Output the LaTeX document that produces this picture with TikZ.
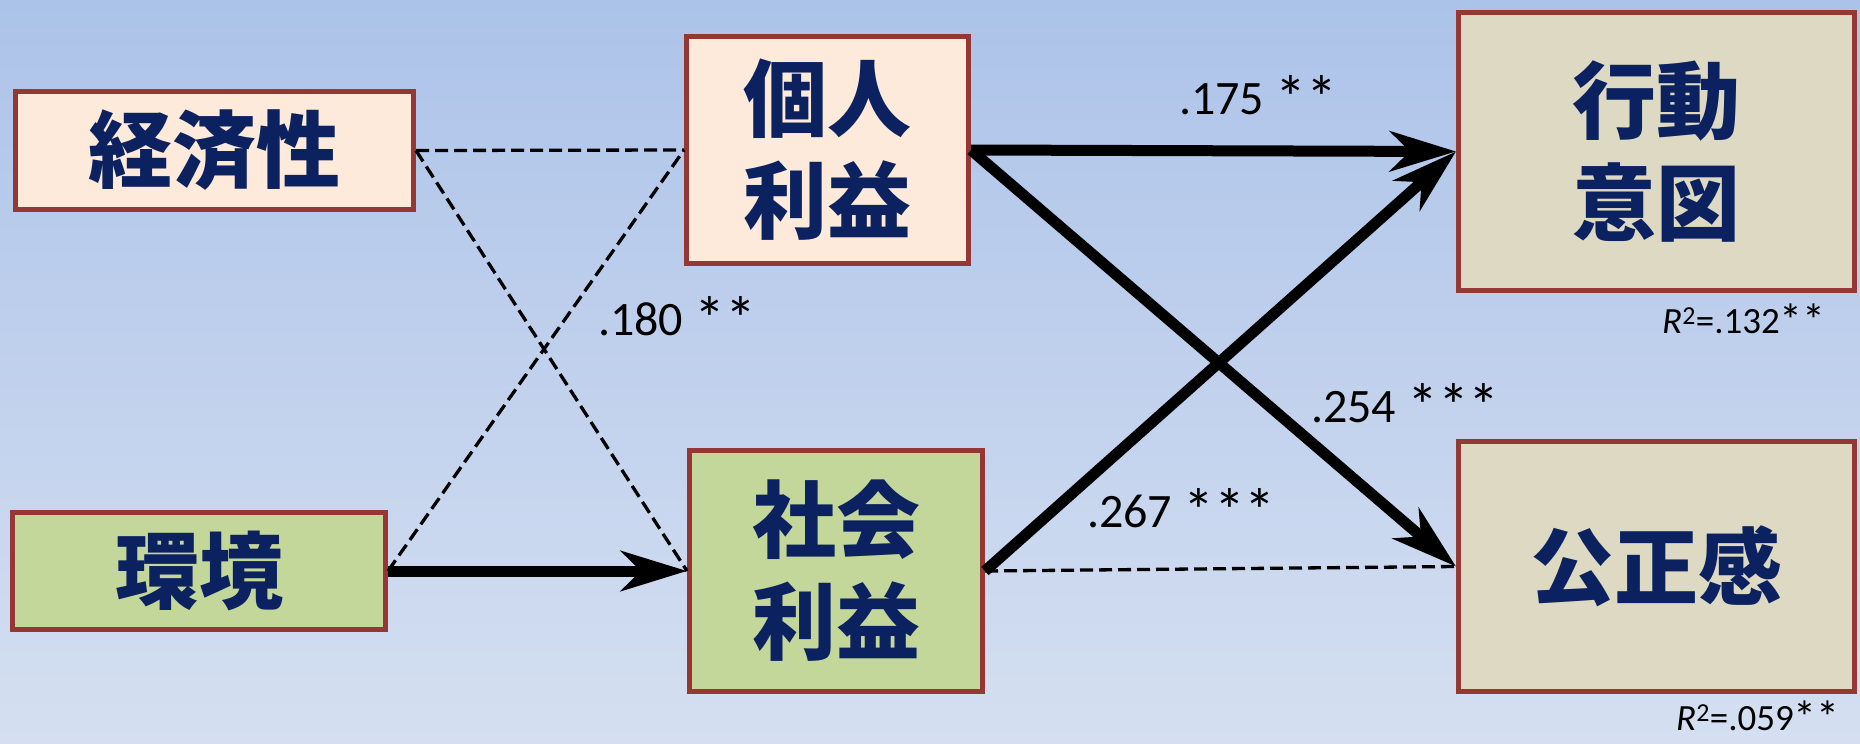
\documentclass[tikz,border=0pt]{standalone}
\usepackage{fontspec}
\setmainfont{Carlito}
\newfontfamily\cjk{Noto Sans CJK JP}
\usetikzlibrary{arrows.meta}
\definecolor{bgtop}{RGB}{172,195,233}
\definecolor{bgbot}{RGB}{213,223,241}
\definecolor{bordc}{RGB}{149,55,53}
\definecolor{peach}{RGB}{253,234,218}
\definecolor{olive}{RGB}{196,215,155}
\definecolor{tan}{RGB}{221,217,195}
\definecolor{navy}{RGB}{12,34,96}
\newcommand\bigast{\raisebox{-5pt}{\fontsize{62}{62}\selectfont*}}
\newcommand\midast{\raisebox{-3pt}{\fontsize{46}{46}\selectfont*}}
\tikzset{
  box/.style={draw=bordc, line width=5pt, rectangle, inner sep=0pt, align=center,
    font=\cjk\bfseries\fontsize{84}{102}\selectfont, text=navy},
  thick arrow/.style={line width=11pt, -{Stealth[length=66pt,width=40pt,inset=20pt]}},
  dashline/.style={line width=3.3pt, dash pattern=on 13pt off 6pt},
  coef/.style={font=\fontsize{48}{56}\selectfont, anchor=west, inner sep=0pt},
  rsq/.style={font=\fontsize{37}{44}\selectfont, anchor=west, inner sep=0pt}
}
\begin{document}
\begin{tikzpicture}[x=1pt,y=-1pt]
\useasboundingbox (0,0) rectangle (1860,744);
\shade[top color=bgtop, bottom color=bgbot] (0,0) rectangle (1860,744);
\node[box, fill=peach, minimum width=398pt, minimum height=118pt] (econ) at (214.5,150.5) {経済性};
\node[box, fill=peach, minimum width=282pt, minimum height=227pt] (pers) at (827.5,150) {個人\\利益};
\node[box, fill=olive, minimum width=373pt, minimum height=117pt] (env) at (199,571) {環境};
\node[box, fill=olive, minimum width=293pt, minimum height=241pt] (soc) at (836,571) {社会\\利益};
\node[box, fill=tan, minimum width=396pt, minimum height=278pt] (intent) at (1656.5,151.5) {行動\\意図};
\node[box, fill=tan, minimum width=396pt, minimum height=250pt] (fair) at (1656.5,566.5) {公正感};
\draw[dashline] (econ.east) -- (pers.west);
\draw[dashline] (econ.east) -- (soc.west);
\draw[dashline] (env.east) -- (pers.west);
\draw[dashline] (soc.east) -- (fair.west);
\draw[thick arrow] (env.east) -- (soc.west);
\draw[thick arrow] (pers.east) -- (intent.west);
\draw[thick arrow] (pers.east) -- (fair.west);
\draw[thick arrow] (soc.east) -- (intent.west);
\node[coef] (c180) at (598,318) {.180 \bigast\bigast};
\node[coef] (c175) at (1179,97) {.175 \bigast\bigast};
\node[coef] (c254) at (1311,405) {.254 \bigast\bigast\bigast};
\node[coef] (c267) at (1087,510) {.267 \bigast\bigast\bigast};
\node[rsq] (r1) at (1662,320) {\textit{R}\textsuperscript{2}=.132\midast\midast};
\node[rsq] (r2) at (1676,717) {\textit{R}\textsuperscript{2}=.059\midast\midast};
\end{tikzpicture}
\end{document}
